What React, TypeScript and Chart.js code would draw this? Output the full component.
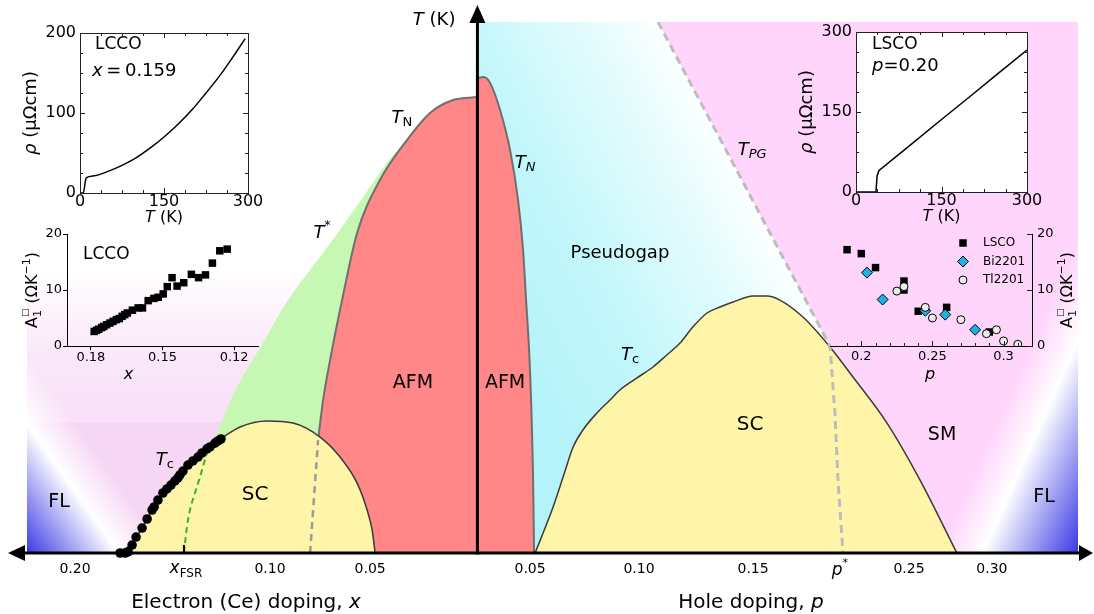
import React, { useEffect, useRef } from 'react';
import { Chart, registerables } from 'chart.js';

Chart.register(...registerables);

const FONT = '"DejaVu Sans", "Liberation Sans", Arial, sans-serif';
Chart.defaults.font.family = FONT;
Chart.defaults.color = '#000';

const W = 1094;
const H = 614;

/* ================= main phase diagram =================
   x: schematic doping coordinate (electron side < 0 < hole side)
   y: temperature (arbitrary K scale, schematic) */
const X_MIN = -0.225;
const X_MAX = 0.3;
const T_MAX = 300;

const tickPositions = [-0.201, -0.1036, -0.0536, 0.0263, 0.0807, 0.1377, 0.2156, 0.257];
const tickLabels = ['0.20', '0.10', '0.05', '0.05', '0.10', '0.15', '0.25', '0.30'];
const xFsrPosition = -0.1466;
const pStarPosition = 0.1801;

const smElectronRegion = [[-0.225, 160], [-0.087, 160]];
const flElectronRegion = [[-0.225, 160], [-0.16, 160]];
const smHoleRegion = [[0.0902, 300], [0.3, 300]];
const flHoleRegion = [[0.17, 300], [0.3, 300]];
const pseudogapRegion = [[0, 300], [0.0902, 300], [0.1761, 117], [0.1826, 0]];
const tStarLine = [[-0.1311, 65.0], [-0.1211, 91.5], [-0.1086, 115.8], [-0.0946, 142.9], [-0.0771, 169.5], [-0.0581, 199.4], [-0.0442, 222.0], [-0.0337, 234.5]];
const tnElectron = [[-0.0796, 63.8], [-0.0771, 86.4], [-0.0736, 109.0], [-0.0676, 142.9], [-0.0601, 180.8], [-0.0487, 210.7], [-0.0352, 233.3], [-0.0237, 248.6], [-0.0122, 255.9], [0, 257.6]];
const tnHole = [[0, 268.2], [0.003, 268.9], [0.0063, 265.6], [0.0113, 250.3], [0.0163, 227.7], [0.0203, 199.4], [0.0228, 171.2], [0.0243, 142.9], [0.0258, 114.7], [0.0268, 86.4], [0.0278, 41.2], [0.0283, 0]];
const scElectron = [[-0.1795, 0], [-0.1735, 4.5], [-0.1675, 14.1], [-0.162, 25.4], [-0.1571, 33.9], [-0.1496, 42.9], [-0.1426, 51.4], [-0.1351, 59.3], [-0.1276, 65.0], [-0.1186, 71.2], [-0.1051, 74.6], [-0.0921, 73.4], [-0.0786, 65.5], [-0.0686, 54.2], [-0.0601, 39.5], [-0.0551, 24.3], [-0.0526, 13.0], [-0.0511, 0]];
const scHole = [[0.0288, 0], [0.0328, 11.3], [0.0378, 26.0], [0.0428, 42.9], [0.0478, 59.9], [0.0527, 69.5], [0.0597, 79.1], [0.0662, 86.4], [0.0712, 92.1], [0.0797, 98.9], [0.0877, 105.1], [0.0946, 111.9], [0.1012, 118.6], [0.1076, 127.7], [0.1147, 135.6], [0.1212, 139.0], [0.1277, 141.8], [0.1377, 145.2], [0.1447, 145.2], [0.1511, 142.9], [0.1626, 133.3], [0.1761, 116.4], [0.1876, 99.4], [0.2046, 73.4], [0.2211, 41.2], [0.2395, 0]];
const tpgLine = [[0.0902, 300], [0.1761, 117], [0.1786, 79.1], [0.1801, 41.2], [0.1826, 0]];
const afmElectronBoundary = [[-0.0836, 0], [-0.0796, 63.8]];
const xFsrLine = [[-0.1466, 0], [-0.1451, 14.7], [-0.1436, 24.3], [-0.1411, 33.9], [-0.1386, 42.9], [-0.1366, 50.8], [-0.1346, 58.2]];
const tcElectronX = [-0.1785, -0.176, -0.1745, -0.1725, -0.1705, -0.1675, -0.165, -0.1625, -0.1615, -0.1596, -0.1571, -0.1551, -0.1531, -0.1511, -0.1496, -0.1486, -0.1471, -0.1446, -0.1421, -0.1396, -0.1376, -0.1351, -0.1336, -0.1311, -0.1296, -0.1281];
const tcElectronT = [0, 0, 0.6, 4.5, 9.0, 14.1, 19.2, 24.3, 26.0, 29.9, 33.9, 36.2, 38.4, 40.7, 42.4, 44.1, 46.3, 49.7, 52.0, 54.2, 56.5, 58.8, 59.9, 62.1, 63.3, 64.4];

/* ================= insets ================= */
const lccoRhoTemp = [0, 6, 9, 11, 25, 50, 75, 100, 125, 150, 175, 200, 225, 250, 275, 295];
const lccoRho = [0, 0, 12, 19, 21.5, 27, 34.5, 44, 56, 70, 86, 104, 125, 147, 172, 193];
const lscoRhoTemp = [0, 35, 37, 40, 100, 150, 200, 250, 300];
const lscoRho = [0, 0, 30, 40, 92, 136, 179, 223, 266];
const rhoTempTicks = [0, 150, 300];
const rhoTempMinor = [37.5, 75, 112.5, 187.5, 225, 262.5];
const lccoRhoTicks = [0, 100, 200];
const lccoRhoMinor = [25, 50, 75, 125, 150, 175];
const lscoRhoTicks = [0, 150, 300];
const lscoRhoMinor = [37.5, 75, 112.5, 187.5, 225, 262.5];

const lccoA1Doping = [0.1786, 0.1776, 0.1767, 0.1755, 0.1746, 0.1734, 0.172, 0.1707, 0.1693, 0.1681, 0.1669, 0.1658, 0.1647, 0.1626, 0.1602, 0.1584, 0.156, 0.1536, 0.1518, 0.1497, 0.148, 0.146, 0.1439, 0.1411, 0.1379, 0.1349, 0.132, 0.1291, 0.126, 0.1229];
const lccoA1 = [2.6, 2.8, 3.0, 3.3, 3.5, 3.8, 4.1, 4.4, 4.7, 4.9, 5.3, 5.6, 5.9, 6.4, 6.8, 6.8, 8.1, 8.5, 8.7, 9.3, 10.6, 12.2, 10.7, 11.3, 12.8, 12.2, 12.7, 14.8, 17.0, 17.3];
const lccoA1Ticks = [0.18, 0.15, 0.12];
const a1Ticks = [0, 10, 20];

const lscoP = [0.19, 0.2, 0.21, 0.23, 0.23, 0.24, 0.26, 0.29];
const lscoA1 = [17.2, 16.5, 14.0, 11.6, 10.0, 6.2, 6.9, 2.5];
const bi2201P = [0.204, 0.215, 0.245, 0.259, 0.28];
const bi2201A1 = [13.1, 8.3, 6.3, 5.6, 2.9];
const tl2201P = [0.225, 0.23, 0.245, 0.25, 0.27, 0.288, 0.295, 0.3, 0.31];
const tl2201A1 = [9.8, 10.6, 6.9, 5.0, 4.7, 2.2, 2.9, 0.9, 0.3];
const holeA1Ticks = [0.2, 0.25, 0.3];
const holeA1TickLabels = ['0.2', '0.25', '0.3'];
const holeA1Minor = [0.19, 0.21, 0.22, 0.23, 0.24, 0.26, 0.27, 0.28, 0.29, 0.31];

/* ================= helpers ================= */
type Part = { t: string; size: number; italic?: boolean; dy?: number; stack?: boolean };

function drawParts(ctx: any, parts: Part[], x: number, y: number, align = 'center', color = '#000') {
  ctx.save();
  ctx.fillStyle = color;
  ctx.textBaseline = 'middle';
  ctx.textAlign = 'left';
  const fontOf = (p: Part) => `${p.italic ? 'italic ' : ''}${p.size}px ${FONT}`;
  const widths = parts.map((p) => { ctx.font = fontOf(p); return ctx.measureText(p.t).width; });
  let total = 0;
  let pend = 0;
  parts.forEach((p, i) => {
    if (p.stack) pend = Math.max(pend, widths[i]);
    else { total += Math.max(pend, widths[i]); pend = 0; }
  });
  total += pend;
  let cx = align === 'left' ? x : align === 'right' ? x - total : x - total / 2;
  pend = 0;
  parts.forEach((p, i) => {
    ctx.font = fontOf(p);
    ctx.fillText(p.t, cx, y + (p.dy || 0));
    if (p.stack) pend = Math.max(pend, widths[i]);
    else { cx += Math.max(pend, widths[i]); pend = 0; }
  });
  ctx.restore();
}

function drawPartsRotated(ctx: any, parts: Part[], x: number, y: number, angle: number) {
  ctx.save();
  ctx.translate(x, y);
  ctx.rotate(angle);
  drawParts(ctx, parts, 0, 0, 'center');
  ctx.restore();
}

const pts = (arr: number[][]) => arr.map(([x, y]) => ({ x, y }));
const zip = (xs: number[], ys: number[]) => xs.map((x, i) => ({ x, y: ys[i] }));

function inwardTicks(chart: any, spec: any) {
  const { ctx, chartArea: a, scales } = chart;
  const xs = scales.x;
  const ys = scales.y;
  ctx.save();
  ctx.strokeStyle = '#222';
  ctx.lineWidth = 1;
  ctx.beginPath();
  const xt = [...(spec.xMajor || []).map((v: number) => [v, 5]), ...(spec.xMinor || []).map((v: number) => [v, 3])];
  const yt = [...(spec.yMajor || []).map((v: number) => [v, 5]), ...(spec.yMinor || []).map((v: number) => [v, 3])];
  xt.forEach(([v, len]) => {
    const px = Math.round(xs.getPixelForValue(v)) + 0.5;
    if (spec.bottom) { ctx.moveTo(px, a.bottom); ctx.lineTo(px, a.bottom - len); }
    if (spec.top) { ctx.moveTo(px, a.top); ctx.lineTo(px, a.top + len); }
  });
  yt.forEach(([v, len]) => {
    const py = Math.round(ys.getPixelForValue(v)) + 0.5;
    if (spec.left) { ctx.moveTo(a.left, py); ctx.lineTo(a.left + len, py); }
    if (spec.right) { ctx.moveTo(a.right, py); ctx.lineTo(a.right - len, py); }
  });
  ctx.stroke();
  ctx.restore();
}

/* ================= main chart ================= */
const leftPinkFill = (c: any) => {
  const a = c.chart.chartArea;
  if (!a) return '#f7d5f5';
  const g = c.chart.ctx.createLinearGradient(0, a.bottom - 285, 0, a.bottom - 130);
  g.addColorStop(0, '#ffffff');
  g.addColorStop(0.6, '#fae6f9');
  g.addColorStop(0.99, '#f9e0f8');
  g.addColorStop(1, '#f6d6f5');
  return g;
};
const leftFlFill = (c: any) => {
  const a = c.chart.chartArea;
  if (!a) return 'rgba(0,0,0,0)';
  const g = c.chart.ctx.createLinearGradient(a.left + 94, a.bottom - 67, a.left, a.bottom);
  g.addColorStop(0, 'rgba(255,255,255,0)');
  g.addColorStop(0.35, 'rgba(255,255,255,1)');
  g.addColorStop(1, '#3a3ae4');
  return g;
};
const rightFlFill = (c: any) => {
  const a = c.chart.chartArea;
  if (!a) return 'rgba(0,0,0,0)';
  const g = c.chart.ctx.createLinearGradient(a.right - 116, a.bottom - 52, a.right, a.bottom);
  g.addColorStop(0, 'rgba(255,255,255,0)');
  g.addColorStop(0.315, 'rgba(255,255,255,1)');
  g.addColorStop(1, '#3a3ae4');
  return g;
};
const cyanFill = (c: any) => {
  const a = c.chart.chartArea;
  if (!a) return '#c0f7fb';
  const x0 = c.chart.scales.x.getPixelForValue(0);
  const g = c.chart.ctx.createLinearGradient(x0, a.top + 278, x0 + 255, a.top + 142);
  g.addColorStop(0, '#b4f3f9');
  g.addColorStop(0.4, '#c3f7fb');
  g.addColorStop(0.8, '#e6fcfd');
  g.addColorStop(1, '#fbffff');
  return g;
};

const region = (label: string, arr: number[][], bg: any, order: number) => ({
  label, data: pts(arr), fill: 'origin', backgroundColor: bg, borderColor: 'rgba(0,0,0,0)', borderWidth: 0, pointRadius: 0, order,
});

const mainLabels: { s: number; T: number; parts: Part[] }[] = [
  { s: -0.0322, T: 96, parts: [{ t: 'AFM', size: 19 }] },
  { s: 0.0138, T: 96, parts: [{ t: 'AFM', size: 19 }] },
  { s: 0.0712, T: 169.5, parts: [{ t: 'Pseudogap', size: 18 }] },
  { s: -0.1111, T: 32.8, parts: [{ t: 'SC', size: 20 }] },
  { s: 0.1362, T: 72.3, parts: [{ t: 'SC', size: 20 }] },
  { s: 0.2321, T: 66.7, parts: [{ t: 'SM', size: 19 }] },
  { s: -0.209, T: 28.8, parts: [{ t: 'FL', size: 19 }] },
  { s: 0.283, T: 31.6, parts: [{ t: 'FL', size: 19 }] },
  { s: -0.0377, T: 245.8, parts: [{ t: 'T', size: 18, italic: true }, { t: 'N', size: 13, dy: 5 }] },
  { s: 0.0238, T: 220.4, parts: [{ t: 'T', size: 18, italic: true }, { t: 'N', size: 13, italic: true, dy: 5 }] },
  { s: -0.0777, T: 180.8, parts: [{ t: 'T', size: 18, italic: true }, { t: '*', size: 12, dy: -7 }] },
  { s: -0.1561, T: 52.5, parts: [{ t: 'T', size: 18, italic: true }, { t: 'c', size: 13, dy: 5 }] },
  { s: 0.0762, T: 111.9, parts: [{ t: 'T', size: 18, italic: true }, { t: 'c', size: 13, dy: 5 }] },
  { s: 0.1372, T: 227.7, parts: [{ t: 'T', size: 18, italic: true }, { t: 'PG', size: 13, italic: true, dy: 5 }] },
];

const mainDecor = {
  id: 'mainDecor',
  afterDatasetsDraw(chart: any) {
    const { ctx, chartArea: a, scales } = chart;
    const xs = scales.x;
    const ys = scales.y;
    const x0 = xs.getPixelForValue(0);
    const y0 = ys.getPixelForValue(0);
    ctx.save();
    ctx.strokeStyle = '#000';
    ctx.fillStyle = '#000';
    ctx.lineWidth = 3;
    ctx.beginPath(); ctx.moveTo(a.left - 8, y0); ctx.lineTo(a.right + 6, y0); ctx.stroke();
    ctx.beginPath(); ctx.moveTo(x0, y0 + 1.5); ctx.lineTo(x0, a.top - 8); ctx.stroke();
    const tri = (p: number[][]) => {
      ctx.beginPath(); ctx.moveTo(p[0][0], p[0][1]); ctx.lineTo(p[1][0], p[1][1]); ctx.lineTo(p[2][0], p[2][1]); ctx.closePath(); ctx.fill();
    };
    tri([[a.left - 19, y0], [a.left - 2, y0 - 8], [a.left - 2, y0 + 8]]);
    tri([[a.right + 15, y0], [a.right + 1, y0 - 8], [a.right + 1, y0 + 8]]);
    tri([[x0, a.top - 17], [x0 - 8, a.top + 1], [x0 + 8, a.top + 1]]);
    const xf = xs.getPixelForValue(xFsrPosition);
    ctx.lineWidth = 2;
    ctx.beginPath(); ctx.moveTo(xf, y0 - 8); ctx.lineTo(xf, y0); ctx.stroke();
    ctx.restore();
  },
  afterDraw(chart: any) {
    const { ctx, chartArea: a, scales } = chart;
    const xs = scales.x;
    const ys = scales.y;
    const x0 = xs.getPixelForValue(0);
    const y0 = ys.getPixelForValue(0);
    mainLabels.forEach((l) => drawParts(ctx, l.parts, xs.getPixelForValue(l.s), ys.getPixelForValue(l.T)));
    drawParts(ctx, [{ t: 'T', size: 18, italic: true }, { t: ' (K)', size: 18 }], x0 - 22, a.top - 2, 'right');
    drawParts(ctx, [{ t: 'x', size: 17, italic: true }, { t: 'FSR', size: 12, dy: 5 }], xs.getPixelForValue(xFsrPosition) + 2, y0 + 16);
    drawParts(ctx, [{ t: 'p', size: 17, italic: true }, { t: '*', size: 11, dy: -8 }], xs.getPixelForValue(pStarPosition) + 2, y0 + 18);
    drawParts(ctx, [{ t: 'Electron (Ce) doping, ', size: 20 }, { t: 'x', size: 20, italic: true }], 246, y0 + 50);
    drawParts(ctx, [{ t: 'Hole doping, ', size: 20 }, { t: 'p', size: 20, italic: true }], 751, y0 + 50);
  },
};

const mainConfig = (): any => ({
  type: 'line',
  data: {
    datasets: [
      region('SM electron', smElectronRegion, leftPinkFill, 100),
      region('SM hole', smHoleRegion, '#ffd5fc', 100),
      region('FL electron', flElectronRegion, leftFlFill, 95),
      region('FL hole', flHoleRegion, rightFlFill, 95),
      region('Pseudogap', pseudogapRegion, cyanFill, 90),
      { ...region('T*', tStarLine, '#c6f8b3', 80), cubicInterpolationMode: 'monotone' },
      { ...region('AFM electron', tnElectron, '#ff8787', 70), borderColor: '#6f6f6f', borderWidth: 2, cubicInterpolationMode: 'monotone' },
      { ...region('AFM hole', tnHole, '#ff8787', 70), borderColor: '#6f6f6f', borderWidth: 2, cubicInterpolationMode: 'monotone' },
      { ...region('SC electron', scElectron, '#fff5a9', 60), borderColor: '#3a3a3a', borderWidth: 1.5, cubicInterpolationMode: 'monotone' },
      { ...region('SC hole', scHole, '#fff5a9', 60), borderColor: '#3a3a3a', borderWidth: 1.5, cubicInterpolationMode: 'monotone' },
      { label: 'T_PG', data: pts(tpgLine), fill: false, borderColor: '#bdbdbd', borderWidth: 3, borderDash: [8, 5], pointRadius: 0, order: 20 },
      { label: 'AFM boundary', data: pts(afmElectronBoundary), fill: false, borderColor: '#9a9a9a', borderWidth: 2.5, borderDash: [7, 5], pointRadius: 0, order: 20 },
      { label: 'x_FSR', data: pts(xFsrLine), fill: false, borderColor: '#34b52a', borderWidth: 2, borderDash: [6, 4], pointRadius: 0, cubicInterpolationMode: 'monotone', order: 20 },
      { label: 'Tc LCCO', data: zip(tcElectronX, tcElectronT), showLine: false, pointRadius: 4.8, pointStyle: 'circle', pointBackgroundColor: '#000', pointBorderColor: '#000', pointBorderWidth: 0, clip: false, order: 10 },
    ],
  },
  options: {
    animation: false,
    responsive: false,
    devicePixelRatio: 1,
    events: [],
    layout: { padding: { left: 27, right: 16, top: 22, bottom: 0 } },
    plugins: { legend: { display: false }, tooltip: { enabled: false } },
    scales: {
      x: {
        type: 'linear', min: X_MIN, max: X_MAX,
        afterFit: (s: any) => { s.height = 61; },
        afterBuildTicks: (s: any) => { s.ticks = tickPositions.map((v) => ({ value: v })); },
        ticks: { autoSkip: false, maxRotation: 0, minRotation: 0, padding: 8, color: '#000', font: { family: FONT, size: 14 }, callback: (_v: any, i: number) => tickLabels[i] },
        grid: { display: false, drawTicks: false },
        border: { display: false },
      },
      y: { type: 'linear', min: 0, max: T_MAX, display: false },
    },
  },
  plugins: [mainDecor],
});

/* ================= inset charts ================= */
const baseOpts = (padding: any) => ({
  animation: false,
  responsive: false,
  devicePixelRatio: 1,
  events: [],
  layout: { padding },
  plugins: { legend: { display: false }, tooltip: { enabled: false } },
});

const rhoInset = (o: any): any => ({
  type: 'line',
  data: { datasets: [{ data: zip(o.temp, o.rho), borderColor: '#000', borderWidth: 1.5, pointRadius: 0, fill: false, tension: 0, cubicInterpolationMode: o.smooth ? 'monotone' : 'default' }] },
  options: {
    ...baseOpts(o.padding),
    scales: {
      x: {
        type: 'linear', min: 0, max: 300,
        afterFit: (s: any) => { s.height = 30; },
        afterBuildTicks: (s: any) => { s.ticks = rhoTempTicks.map((v) => ({ value: v })); },
        ticks: { autoSkip: false, maxRotation: 0, padding: -1, color: '#000', font: { family: FONT, size: 16 } },
        grid: { display: false, drawTicks: false }, border: { display: false },
      },
      y: {
        type: 'linear', min: 0, max: o.yMax,
        afterFit: (s: any) => { s.width = 40; },
        afterBuildTicks: (s: any) => { s.ticks = o.yTicks.map((v: number) => ({ value: v })); },
        ticks: { autoSkip: false, padding: 4, color: '#000', font: { family: FONT, size: 16 } },
        grid: { display: false, drawTicks: false }, border: { display: false },
      },
    },
  },
  plugins: [{
    id: 'rhoDecor',
    beforeDatasetsDraw(chart: any) {
      const { ctx, chartArea: a } = chart;
      ctx.save(); ctx.fillStyle = '#fff'; ctx.fillRect(a.left, a.top, a.right - a.left, a.bottom - a.top); ctx.restore();
    },
    afterDatasetsDraw(chart: any) {
      const { ctx, chartArea: a } = chart;
      ctx.save(); ctx.strokeStyle = '#222'; ctx.lineWidth = 1;
      ctx.strokeRect(Math.round(a.left) + 0.5, Math.round(a.top) + 0.5, Math.round(a.right - a.left), Math.round(a.bottom - a.top));
      ctx.restore();
      inwardTicks(chart, { xMajor: rhoTempTicks, xMinor: rhoTempMinor, yMajor: o.yTicks, yMinor: o.yMinor, bottom: true, top: true, left: true, right: true });
    },
    afterDraw(chart: any) {
      const { ctx, chartArea: a } = chart;
      const cy = (a.top + a.bottom) / 2;
      drawPartsRotated(ctx, [{ t: 'ρ', size: 18, italic: true }, { t: ' (μΩcm)', size: 18 }], a.left - 49, cy, -Math.PI / 2);
      drawParts(ctx, [{ t: 'T', size: 16, italic: true }, { t: ' (K)', size: 16 }], (a.left + a.right) / 2, a.bottom + 25);
      o.texts(ctx, a);
    },
  }],
});

const a1Title: Part[] = [
  { t: 'A', size: 16 }, { t: '1', size: 11, dy: 5, stack: true }, { t: '□', size: 9, dy: -7 },
  { t: ' (ΩK', size: 16 }, { t: '−1', size: 11, dy: -6 }, { t: ')', size: 16 },
];

const lccoA1Config = (): any => ({
  type: 'line',
  data: { datasets: [{ data: zip(lccoA1Doping, lccoA1), showLine: false, pointStyle: 'rect', pointRadius: 5.3, pointBackgroundColor: '#000', pointBorderColor: '#000', pointBorderWidth: 0 }] },
  options: {
    ...baseOpts({ left: 27, top: 234, right: 836, bottom: 238 }),
    scales: {
      x: {
        type: 'linear', min: 0.11, max: 0.19, reverse: true,
        afterFit: (s: any) => { s.height = 30; },
        afterBuildTicks: (s: any) => { s.ticks = lccoA1Ticks.map((v) => ({ value: v })); },
        ticks: { autoSkip: false, maxRotation: 0, padding: 0, color: '#000', font: { family: FONT, size: 13 }, callback: (v: any) => Number(v).toFixed(2) },
        grid: { display: true, drawOnChartArea: false, drawTicks: true, tickLength: 4, color: '#000' },
        border: { display: true, color: '#000', width: 1 },
      },
      y: {
        type: 'linear', min: 0, max: 20,
        afterFit: (s: any) => { s.width = 40; },
        afterBuildTicks: (s: any) => { s.ticks = a1Ticks.map((v) => ({ value: v })); },
        ticks: { autoSkip: false, padding: 1, color: '#000', font: { family: FONT, size: 13 } },
        grid: { display: true, drawOnChartArea: false, drawTicks: true, tickLength: 4, color: '#000' },
        border: { display: true, color: '#000', width: 1 },
      },
    },
  },
  plugins: [{
    id: 'lccoA1Decor',
    afterDraw(chart: any) {
      const { ctx, chartArea: a } = chart;
      drawPartsRotated(ctx, a1Title, a.left - 34, (a.top + a.bottom) / 2, -Math.PI / 2);
      drawParts(ctx, [{ t: 'x', size: 16, italic: true }], (a.left + a.right) / 2 - 34, a.bottom + 29);
      drawParts(ctx, [{ t: 'LCCO', size: 17 }], a.left + 16, a.top + 21, 'left');
    },
  }],
});

const holeA1Config = (): any => ({
  type: 'line',
  data: {
    datasets: [
      { label: 'LSCO', data: zip(lscoP, lscoA1), showLine: false, pointStyle: 'rect', pointRadius: 5.3, pointBackgroundColor: '#000', pointBorderColor: '#000', pointBorderWidth: 0, order: 3 },
      { label: 'Bi2201', data: zip(bi2201P, bi2201A1), showLine: false, pointStyle: 'rectRot', pointRadius: 5.5, pointBackgroundColor: '#1cb2e6', pointBorderColor: '#000', pointBorderWidth: 1, order: 2 },
      { label: 'Tl2201', data: zip(tl2201P, tl2201A1), showLine: false, pointStyle: 'circle', pointRadius: 4, pointBackgroundColor: '#ebebeb', pointBorderColor: '#000', pointBorderWidth: 1, order: 1 },
    ],
  },
  options: {
    ...baseOpts({ left: 830, top: 234, right: 32, bottom: 238 }),
    scales: {
      x: {
        type: 'linear', min: 0.178, max: 0.32,
        afterFit: (s: any) => { s.height = 30; },
        afterBuildTicks: (s: any) => { s.ticks = holeA1Ticks.map((v) => ({ value: v })); },
        ticks: { autoSkip: false, maxRotation: 0, padding: 3, color: '#000', font: { family: FONT, size: 13 }, callback: (_v: any, i: number) => holeA1TickLabels[i] },
        grid: { display: false, drawTicks: false },
        border: { display: true, color: '#000', width: 1 },
      },
      y: {
        type: 'linear', position: 'right', min: 0, max: 20,
        afterFit: (s: any) => { s.width = 30; },
        afterBuildTicks: (s: any) => { s.ticks = a1Ticks.map((v) => ({ value: v })); },
        ticks: { autoSkip: false, padding: 5, color: '#000', font: { family: FONT, size: 13 } },
        grid: { display: false, drawTicks: false },
        border: { display: true, color: '#000', width: 1 },
      },
    },
  },
  plugins: [{
    id: 'holeA1Decor',
    afterDatasetsDraw(chart: any) {
      inwardTicks(chart, { xMajor: holeA1Ticks, xMinor: holeA1Minor, yMajor: a1Ticks, bottom: true, right: true });
    },
    afterDraw(chart: any) {
      const { ctx, chartArea: a } = chart;
      drawPartsRotated(ctx, a1Title, a.right + 36, (a.top + a.bottom) / 2, -Math.PI / 2);
      drawParts(ctx, [{ t: 'p', size: 16, italic: true }], 930, a.bottom + 29);
      const rows = [
        { label: 'LSCO', style: 'rect', r: 5.3, bg: '#000', bw: 0 },
        { label: 'Bi2201', style: 'rectRot', r: 5.5, bg: '#1cb2e6', bw: 1 },
        { label: 'Tl2201', style: 'circle', r: 4, bg: '#ebebeb', bw: 1 },
      ];
      rows.forEach((row, i) => {
        const yy = a.top + 9 + i * 18.5;
        ctx.save();
        ctx.fillStyle = row.bg;
        ctx.strokeStyle = '#000';
        ctx.lineWidth = row.bw;
        ctx.beginPath();
        if (row.style === 'rect') {
          const h = row.r * Math.SQRT1_2;
          ctx.rect(963 - h, yy - h, 2 * h, 2 * h);
        } else if (row.style === 'rectRot') {
          ctx.moveTo(963, yy - row.r); ctx.lineTo(963 + row.r, yy); ctx.lineTo(963, yy + row.r); ctx.lineTo(963 - row.r, yy); ctx.closePath();
        } else {
          ctx.arc(963, yy, row.r, 0, Math.PI * 2);
        }
        ctx.fill();
        if (row.bw) ctx.stroke();
        ctx.restore();
        drawParts(ctx, [{ t: row.label, size: 12 }], 983, yy, 'left');
      });
    },
  }],
});

export default function App() {
  const mainRef = useRef<HTMLCanvasElement>(null);
  const r1 = useRef<HTMLCanvasElement>(null);
  const r2 = useRef<HTMLCanvasElement>(null);
  const r3 = useRef<HTMLCanvasElement>(null);
  const r4 = useRef<HTMLCanvasElement>(null);

  useEffect(() => {
    const charts = [
      new Chart(mainRef.current as any, mainConfig()),
      new Chart(r1.current as any, rhoInset({
        temp: lccoRhoTemp, rho: lccoRho, yMax: 200, yTicks: lccoRhoTicks, yMinor: lccoRhoMinor, smooth: true,
        padding: { left: 40, top: 33, right: 846, bottom: 391 },
        texts: (ctx: any, a: any) => {
          drawParts(ctx, [{ t: 'LCCO', size: 17 }], a.left + 15, a.top + 12, 'left');
          drawParts(ctx, [{ t: 'x', size: 18, italic: true }, { t: '\u2009=\u20090.159', size: 18 }], a.left + 12, a.top + 38, 'left');
        },
      })),
      new Chart(r2.current as any, rhoInset({
        temp: lscoRhoTemp, rho: lscoRho, yMax: 300, yTicks: lscoRhoTicks, yMinor: lscoRhoMinor, smooth: false,
        padding: { left: 816, top: 32, right: 67, bottom: 392 },
        texts: (ctx: any, a: any) => {
          drawParts(ctx, [{ t: 'LSCO', size: 17 }], a.left + 16, a.top + 13, 'left');
          drawParts(ctx, [{ t: 'p', size: 18, italic: true }, { t: '=0.20', size: 18 }], a.left + 16, a.top + 34, 'left');
        },
      })),
      new Chart(r3.current as any, lccoA1Config()),
      new Chart(r4.current as any, holeA1Config()),
    ];
    return () => charts.forEach((c) => c.destroy());
  }, []);

  const cs: any = { position: 'absolute', left: 0, top: 0, width: W, height: H, pointerEvents: 'none' };
  return (
    <div style={{ position: 'fixed', left: 0, top: 0, width: W, height: H, background: '#fff', overflow: 'hidden' }}>
      <canvas ref={mainRef} width={W} height={H} style={cs} />
      <canvas ref={r1} width={W} height={H} style={cs} />
      <canvas ref={r2} width={W} height={H} style={cs} />
      <canvas ref={r3} width={W} height={H} style={cs} />
      <canvas ref={r4} width={W} height={H} style={cs} />
    </div>
  );
}
